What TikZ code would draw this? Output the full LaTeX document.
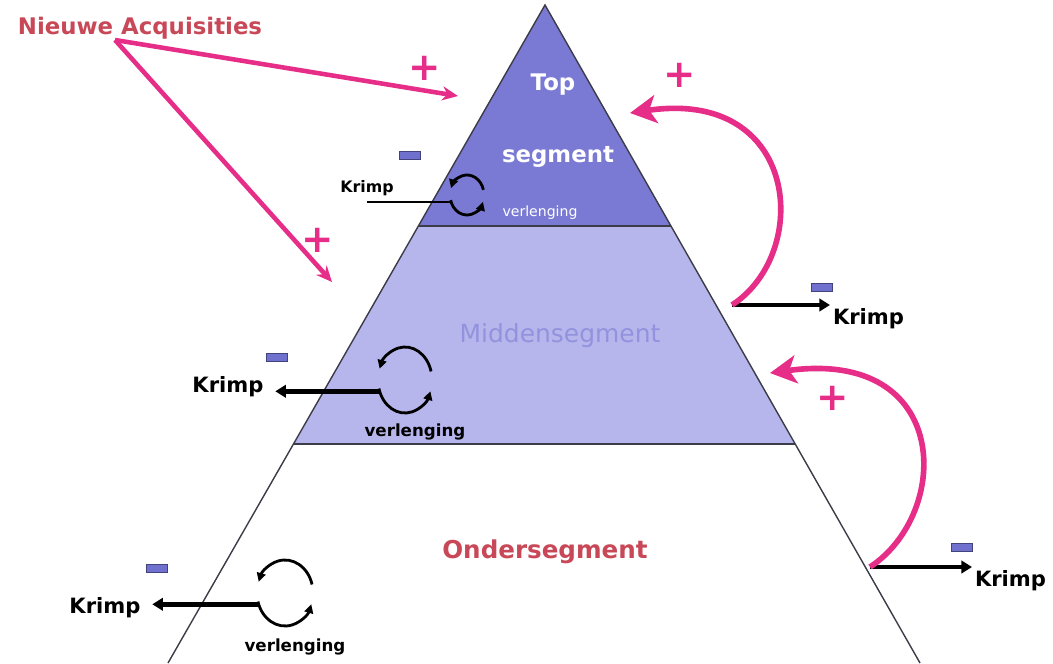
\documentclass[tikz,border=0pt]{standalone}
\usepackage{fontspec}
\setmainfont{DejaVu Sans}
\usetikzlibrary{arrows.meta,calc,positioning}
\definecolor{topviolet}{RGB}{122,122,212}
\definecolor{midlavender}{RGB}{182,182,236}
\definecolor{midtext}{RGB}{146,146,222}
\definecolor{acqred}{RGB}{200,72,88}
\definecolor{hotpink}{RGB}{230,46,136}
\definecolor{barviolet}{RGB}{112,112,206}
\definecolor{edgegray}{RGB}{60,60,72}
\tikzset{
    % pyramid and labels
    pyredge/.style={draw=edgegray, line width=0.8pt},
    seglabel/.style={font=\fontsize{13}{15}\selectfont\bfseries, inner sep=1pt},
    krimplabel/.style={font=\fontsize{12}{14}\selectfont\bfseries, inner sep=1.5pt},
    verllabel/.style={font=\fontsize{9.5}{11}\selectfont\bfseries, inner sep=1pt},
    % signs
    plusmark/.style={text=hotpink, font=\fontsize{22}{22}\selectfont\bfseries, inner sep=0pt},
    minusbar/.style={rectangle, draw=barviolet!60!black, fill=barviolet,
        minimum width=0.42cm, minimum height=0.16cm, inner sep=0pt},
    % connectors
    pinkarrow/.style={draw=hotpink, line width=2.6pt,
        -{Stealth[length=9pt,width=8pt]}},
    pinkcurve/.style={draw=hotpink, line width=3.2pt,
        -{Stealth[length=15pt,width=16pt,inset=4pt]}},
    krimparrow/.style={draw=black, line width=2.6pt,
        -{Triangle[length=6pt,width=7pt]}},
    cyclearc/.style={draw=black, line width=1.6pt,
        -{Triangle[length=5pt,width=5pt]}}
}
\begin{document}
\begin{tikzpicture}[x=0.02cm,y=0.02cm]
\useasboundingbox (0,0) rectangle (1053,663);

% Pyramid corners
\coordinate (apex) at (545,658);
\coordinate (bl) at (168,0);
\coordinate (br) at (920,0);
\coordinate (tl) at ($(apex)!0.336!(bl)$);
\coordinate (tr) at ($(apex)!0.336!(br)$);
\coordinate (ml) at ($(apex)!0.667!(bl)$);
\coordinate (mr) at ($(apex)!0.667!(br)$);

% Segments
\fill[midlavender] (tl) -- (tr) -- (mr) -- (ml) -- cycle;
\fill[topviolet] (apex) -- (tr) -- (tl) -- cycle;
\draw[pyredge] (bl) -- (apex) -- (br);
\draw[pyredge] (tl) -- (tr);
\draw[pyredge, line width=1.3pt] (ml) -- (mr);

% Segment names
\node[seglabel, text=white] (toplbl) at (553,578) {Top};
\node[seglabel, text=white] (seglbl) at (558,506) {segment};
\node[font=\fontsize{14.2}{16}\selectfont, text=midtext] (midlbl) at (560,327) {Middensegment};
\node[seglabel, text=acqred, font=\fontsize{14}{16}\selectfont\bfseries] (ondlbl) at (545,111) {Ondersegment};
\node[seglabel, text=acqred] (acq) at (140,635) {Nieuwe Acquisities};

% Renewal cycles
\coordinate (cyctop) at (467,468);
\coordinate (cycmid) at (405,283);
\coordinate (cycbot) at (285,70);
\foreach \c/\rx/\ry in {cyctop/17/20, cycmid/27/33, cycbot/28/33}{
    \draw[cyclearc] ($(\c)+(15:\rx\space and \ry)$) arc[start angle=15, end angle=160, x radius=\rx, y radius=\ry];
    \draw[cyclearc] ($(\c)+(195:\rx\space and \ry)$) arc[start angle=195, end angle=340, x radius=\rx, y radius=\ry];
}
\node[verllabel, text=white, font=\fontsize{8}{10}\selectfont] (verltop) at (540,450) {verlenging};
\node[verllabel] (verlmid) at (415,231) {verlenging};
\node[verllabel] (verlbot) at (295,16) {verlenging};

% Krimp on the left
\node[krimplabel, font=\fontsize{9}{11}\selectfont\bfseries] (krimptop) at (367,475) {Krimp};
\coordinate (starttl) at ($(cyctop)+(200:17 and 20)$);
\draw[black, line width=1.4pt] (starttl) -- (starttl -| krimptop.center);
\coordinate (startml) at ($(cycmid)+(200:27 and 33)$);
\node[krimplabel] (krimpmid) at (228,276) {Krimp};
\draw[krimparrow, shorten >=5pt] (startml) -- (startml -| krimpmid.east);
\coordinate (startbl) at ($(cycbot)+(200:28 and 33)$);
\node[krimplabel] (krimpbot) at (105,55) {Krimp};
\draw[krimparrow, shorten >=5pt] (startbl) -- (startbl -| krimpbot.east);

% Krimp on the right
\coordinate (startrt) at (732,358);
\node[krimplabel, anchor=north west] (krimprt) at (830,358) {Krimp};
\draw[krimparrow] (startrt) -- (startrt -| krimprt.west);
\coordinate (startrb) at (870,96);
\node[krimplabel, anchor=north west] (krimprb) at (972,96) {Krimp};
\draw[krimparrow] (startrb) -- (startrb -| krimprb.west);

% Acquisition arrows
\coordinate (acqfoot) at (115,623);
\coordinate (acqtop) at (458,567);
\coordinate (acqmid) at (332,381);
\draw[pinkarrow] (acqfoot) -- (acqtop);
\draw[pinkarrow] (acqfoot) -- (acqmid);

% Promotion arrows
\coordinate (uptop) at (630,550);
\coordinate (upmid) at (770,290);
\draw[pinkcurve] (startrt) .. controls (812,410) and (800,575) .. (uptop);
\draw[pinkcurve] (startrb) .. controls (952,150) and (952,315) .. (upmid);

% Signs
\node[plusmark] at (425,595) {+};
\node[plusmark] at (318,423) {+};
\node[plusmark] at (680,588) {+};
\node[plusmark] at (833,265) {+};
\node[minusbar] at (410,508) {};
\node[minusbar] at (277,306) {};
\node[minusbar] at (157,95) {};
\node[minusbar] at (822,376) {};
\node[minusbar] at (962,116) {};

\end{tikzpicture}
\end{document}
